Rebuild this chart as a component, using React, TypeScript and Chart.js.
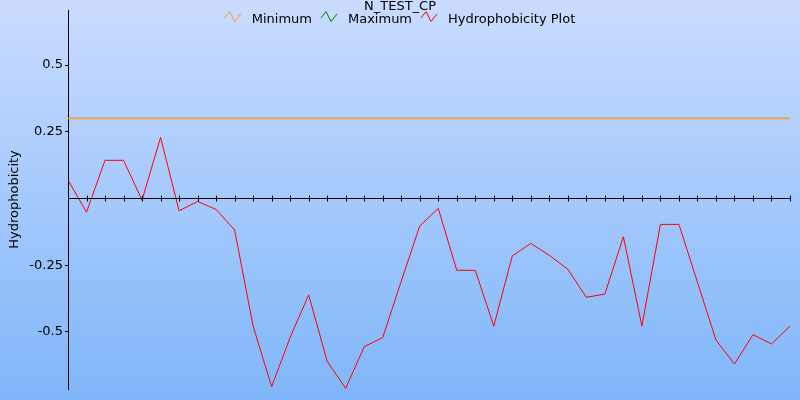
import React, { useEffect, useRef } from 'react';
import { Chart, registerables } from 'chart.js';

Chart.register(...registerables);

// ---- data ----
const chartTitle = 'N_TEST_CP';
const yAxisTitle = 'Hydrophobicity';
const legendLabels = ['Minimum', 'Maximum', 'Hydrophobicity Plot'];
const seriesColors = ['#f5a020', '#008000', '#ff0000'];

const residues = [
  '1', '2', '3', '4', '5', '6', '7', '8', '9', '10',
  '11', '12', '13', '14', '15', '16', '17', '18', '19', '20',
  '21', '22', '23', '24', '25', '26', '27', '28', '29', '30',
  '31', '32', '33', '34', '35', '36', '37', '38', '39', '40',
];

const hydrophobicity = [
  0.069, -0.051, 0.143, 0.143, -0.006, 0.229, -0.046, -0.011, -0.041, -0.118,
  -0.478, -0.705, -0.52, -0.361, -0.61, -0.711, -0.555, -0.521, -0.31, -0.103,
  -0.037, -0.269, -0.269, -0.478, -0.215, -0.168, -0.213, -0.265, -0.37, -0.358,
  -0.143, -0.478, -0.097, -0.097, -0.313, -0.53, -0.62, -0.51, -0.545, -0.478,
];

const minimumLevel = 0.3;
const maximumLevel = 0.3;

const yMin = -0.7135;
const yMax = 0.706;
const yTickValues = [0.5, 0.25, 0, -0.25, -0.5];
const yTickLabels = ['0.5', '0.25', '', '-0.25', '-0.5'];

const FONT = 'DejaVu Sans';
const FONT_SIZE = 13;

const backgroundPlugin = {
  id: 'bgGradient',
  beforeDraw(chart: any) {
    const { ctx, width, height } = chart;
    const g = ctx.createLinearGradient(0, 0, 0, height);
    g.addColorStop(0, '#cadcff');
    g.addColorStop(1, '#7fb6f9');
    ctx.save();
    ctx.fillStyle = g;
    ctx.fillRect(0, 0, width, height);
    ctx.restore();
  },
};

const zeroAxisPlugin = {
  id: 'zeroAxis',
  afterDatasetsDraw(chart: any) {
    const { ctx, chartArea, scales } = chart;
    const y0 = Math.round(scales.y.getPixelForValue(0)) + 0.5;
    ctx.save();
    ctx.strokeStyle = '#000';
    ctx.lineWidth = 1;
    ctx.beginPath();
    ctx.moveTo(chartArea.left, y0);
    ctx.lineTo(chartArea.right, y0);
    for (let i = 1; i < residues.length; i++) {
      const x = Math.round(scales.x.getPixelForValue(i)) + 0.5;
      ctx.moveTo(x, y0 - 3);
      ctx.lineTo(x, y0 + 3);
    }
    ctx.stroke();
    ctx.restore();
  },
};

const headerPlugin = {
  id: 'header',
  afterDraw(chart: any) {
    const { ctx, width } = chart;
    ctx.save();
    ctx.font = `${FONT_SIZE}px "${FONT}"`;
    ctx.fillStyle = '#000';
    ctx.textBaseline = 'alphabetic';
    ctx.textAlign = 'center';
    ctx.fillText(chartTitle, width / 2, 10);

    // legend
    const iconW = 17;
    const gapIconText = 10;
    const gapItems = 9;
    const widths = legendLabels.map((l) => ctx.measureText(l).width);
    let total = 0;
    widths.forEach((w, i) => {
      total += iconW + gapIconText + w + (i < widths.length - 1 ? gapItems : 0);
    });
    let x = width / 2 - total / 2;
    ctx.textAlign = 'left';
    legendLabels.forEach((label, i) => {
      ctx.strokeStyle = seriesColors[i];
      ctx.lineWidth = 1;
      ctx.beginPath();
      ctx.moveTo(x, 18);
      ctx.lineTo(x + 5, 11.5);
      ctx.lineTo(x + 10, 21.5);
      ctx.lineTo(x + 16, 14);
      ctx.stroke();
      ctx.fillStyle = '#000';
      ctx.fillText(label, x + iconW + gapIconText, 23);
      x += iconW + gapIconText + widths[i] + gapItems;
    });
    ctx.restore();
  },
};

export default function App() {
  const canvasRef = useRef<HTMLCanvasElement | null>(null);

  useEffect(() => {
    document.body.style.margin = '0';
    const canvas = canvasRef.current;
    if (!canvas) return;
    const chart = new Chart(canvas, {
      type: 'line',
      data: {
        labels: residues,
        datasets: [
          {
            label: legendLabels[0],
            data: [
              { x: residues[0], y: minimumLevel },
              { x: residues[residues.length - 1], y: minimumLevel },
            ] as any,
            borderColor: seriesColors[0],
            borderWidth: 1.5,
            pointRadius: 0,
          },
          {
            label: legendLabels[1],
            data: [
              { x: residues[0], y: maximumLevel },
              { x: residues[residues.length - 1], y: maximumLevel },
            ] as any,
            borderColor: seriesColors[1],
            borderWidth: 1,
            pointRadius: 0,
          },
          {
            label: legendLabels[2],
            data: hydrophobicity,
            borderColor: seriesColors[2],
            borderWidth: 1,
            pointRadius: 0,
            tension: 0,
          },
        ],
      },
      options: {
        animation: false,
        responsive: true,
        maintainAspectRatio: false,
        layout: { padding: { top: 10, right: 10, bottom: 11, left: 0 } },
        plugins: {
          legend: { display: false },
          title: { display: false },
          tooltip: { enabled: false },
        },
        scales: {
          x: {
            type: 'category',
            display: false,
            offset: false,
          },
          y: {
            min: yMin,
            max: yMax,
            afterFit: (s: any) => {
              s.width = 68;
            },
            afterBuildTicks: (s: any) => {
              s.ticks = yTickValues.map((v) => ({ value: v }));
            },
            ticks: {
              autoSkip: false,
              padding: 2,
              color: '#000',
              font: { family: FONT, size: FONT_SIZE },
              callback: (_v: any, i: number) => yTickLabels[i],
            },
            grid: {
              drawOnChartArea: false,
              drawTicks: true,
              tickLength: 3,
              tickColor: (c: any) => (c.tick && c.tick.value === 0 ? 'rgba(0,0,0,0)' : '#000'),
            },
            border: { display: true, color: '#000', width: 1 },
            title: {
              display: true,
              text: yAxisTitle,
              color: '#000',
              font: { family: FONT, size: FONT_SIZE },
              padding: { top: 7, bottom: 0 },
            },
          },
        },
      },
      plugins: [backgroundPlugin, zeroAxisPlugin, headerPlugin],
    });
    return () => chart.destroy();
  }, []);

  return (
    <div style={{ position: 'relative', width: 800, height: 400 }}>
      <canvas ref={canvasRef} />
    </div>
  );
}
